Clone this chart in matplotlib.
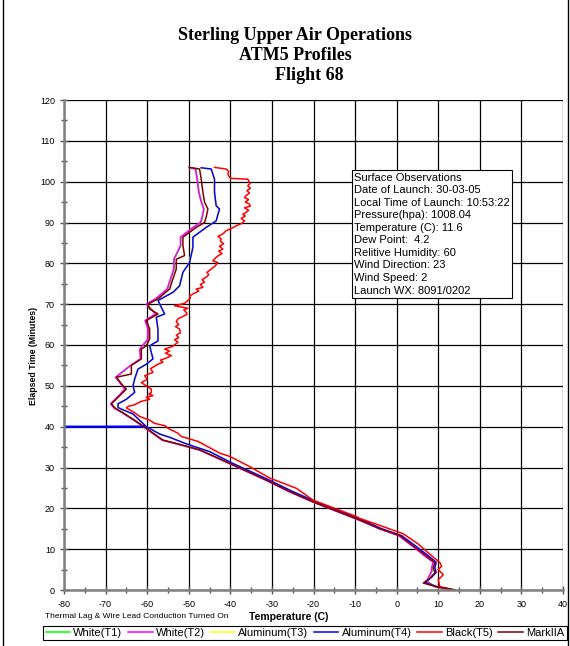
import numpy as np
import matplotlib
matplotlib.use("Agg")
from matplotlib import pyplot as plt
from matplotlib.lines import Line2D

plt.rcParams['font.family'] = ['Liberation Sans', 'DejaVu Sans']
plt.rcParams['axes.unicode_minus'] = False

# elapsed time (minutes) and temperature (C) for each sensor
t_mark = [0, 0.8, 1.7, 2.9, 4.2, 5.4, 6.7, 8.3, 10.8, 13.3, 15, 17.1, 21.6, 24.1, 26.9, 31, 34.3,
          35.9, 36.7, 39.6, 41.3, 43.4, 44.6, 45.6, 47.6, 49.2, 50, 52.1, 52.9, 55, 56.6, 59, 59.8,
          61.5, 63.9, 66, 67.6, 68.8, 70, 71.3, 73.7, 76.2, 78.6, 81, 81.9, 84.3, 86.4, 88.8, 90,
          91.3, 93.3, 95, 97.4, 100.6, 103.1, 103.5]
T_mark = [14, 9.6, 6.4, 8, 9.2, 8.8, 9.2, 7.2, 4, 0.8, -4, -8.8, -20.1, -25.7, -31.3, -40.1, -47.3,
          -53, -56.2, -60.2, -62.6, -65.8, -67.8, -68.6, -66.6, -65, -65.8, -67.4, -63.8, -63.8, -61.4,
          -61.4, -60.2, -59.4, -59.4, -60.2, -57.4, -59.4, -59.8, -57.4, -54.6, -53.8, -53, -53, -51,
          -51.4, -51.4, -48.2, -46.2, -45.8, -45.4, -46.2, -46.6, -47, -47.4, -49.8]

t_white2 = [0, 0.8, 2.1, 3, 4.6, 5.5, 6.8, 8.3, 10.8, 13.3, 15, 17.1, 21.6, 24.1, 26.9, 31, 34.3,
            36.7, 39.6, 41.3, 43.4, 44.6, 45.6, 47.6, 49.2, 52.1, 55, 56.6, 59, 61.5, 63.9, 66, 67.6,
            70, 71.3, 73.7, 76.2, 78.6, 81, 84.3, 86.4, 88.8, 90, 91.3, 93.3, 95, 97.4, 100.6, 103.1,
            103.5]
T_white2 = [14, 9.2, 7.2, 7.6, 8.4, 8.4, 8.8, 6.8, 3.7, 0.5, -4.2, -9, -20.3, -25.9, -31.5, -40.3,
            -47.5, -56.4, -60.4, -62.8, -66, -68, -68.8, -66.8, -65.4, -67.6, -64, -61.6, -61.8, -59.8,
            -59.8, -60.5, -58, -60.2, -58, -55.2, -54.4, -53.6, -53.6, -52, -52, -49, -47.2, -46.8,
            -46.4, -47, -47.6, -48, -48.4, -50]

t_white1 = t_white2
T_white1 = [14, 9.3, 7.3, 7.7, 8.5, 8.5, 8.9, 6.9, 3.8, 0.6, -4.1, -8.9, -20.2, -25.8, -31.4, -40.2,
            -47.4, -56.3, -60.3, -62.7, -65.9, -67.9, -68.7, -66.7, -65.3, -67.5, -63.9, -61.5, -61.7,
            -59.7, -59.7, -60.4, -57.9, -60.1, -57.9, -55.1, -54.3, -53.5, -53.5, -51.9, -51.9, -48.9,
            -47.1, -46.7, -46.3, -46.9, -47.5, -47.9, -48.3, -49.9]

t_alu4 = [0, 0.8, 1.8, 3, 4.3, 5.5, 6.8, 8.4, 10.9, 13.3, 15, 17.2, 21.7, 24.2, 27, 31.1, 33.9, 35.8,
          37.4, 38.2, 39.9, 40.0, 40.1, 43.1, 44.3, 44.7, 45.6, 46.7, 48.4, 50, 51.7, 54.1, 55.3, 56.6,
          59.8, 61, 63.9, 66.8, 67.6, 70.9, 72.9, 74.5, 77.8, 80.2, 83.9, 86.4, 88.8, 90.4, 93.3, 94.1,
          97.4, 100.6, 103.1, 103.4]
T_alu4 = [14, 9.8, 6.8, 8.3, 9.5, 9.2, 9.5, 7.6, 4.4, 1.2, -3.6, -8.4, -19.6, -25.2, -30.8, -39.6,
          -45, -50.6, -54.6, -57, -60, -200, -60.3, -63.4, -66.2, -67, -67, -65, -63, -63.4, -63, -62.2,
          -60.2, -58.6, -59.4, -57.4, -57.4, -57.8, -55.8, -57.4, -53.8, -52.2, -51.4, -49.8, -49, -49,
          -45.8, -43.4, -42.6, -43.4, -43.8, -43.8, -44.6, -47]

t_alu3 = t_alu4
T_alu3 = [14, 9.7, 6.7, 8.2, 9.4, 9.1, 9.4, 7.5, 4.3, 1.1, -3.7, -8.5, -19.7, -25.3, -30.9, -39.7,
          -45.1, -50.7, -54.7, -57.1, -60.1, -60.2, -60.4, -63.5, -66.3, -67.1, -67.1, -65.1, -63.1,
          -63.5, -63.1, -62.3, -60.3, -58.7, -59.5, -57.5, -57.5, -57.9, -55.9, -57.5, -53.9, -52.3,
          -51.5, -49.9, -49.1, -49.1, -45.9, -43.5, -42.7, -43.5, -43.9, -43.9, -44.7, -47.1]

t_black = [0, 0.8, 2.5, 3.75, 5, 5.8, 6.7, 8.75, 11.25, 13.75, 15.8, 17.5, 18, 22, 24.9, 27.4, 30.2,
           32.7, 33.5, 35.1, 36.4, 37.6, 38.4, 39.6, 40.2, 40.8, 41.6, 42.5, 43.4, 44.6, 45, 45.3,
           45.6, 46.2, 46.7, 47.2, 47.6, 48.0, 48.4, 49.2, 50, 50.8, 51.6, 52.5, 53.3, 54.2, 55.3,
           55.8, 56.3, 56.8, 57.4, 58.0, 58.5, 59.0, 59.6, 60.2, 60.7, 61.3, 61.8, 62.4, 63.0, 63.9,
           64.5, 65.0, 65.7, 66.4, 67.0, 67.5, 68.0, 68.6, 69.0, 69.6, 70.2, 70.9, 71.5, 72.0, 72.5,
           73.2, 73.7, 74.1, 74.8, 75.4, 76.0, 76.6, 77.2, 77.8, 78.6, 79.4, 80.2, 80.6, 81.1, 81.8,
           82.4, 83.0, 83.5, 84.2, 84.8, 85.4, 86.0, 86.6, 87.2, 88.0, 88.6, 89.2, 89.8, 90.4, 91.0,
           91.6, 92.0, 92.5, 93.0, 93.6, 94.0, 94.5, 95.0, 95.6, 96.1, 96.6, 97.2, 97.8, 98.4, 99.0,
           99.6, 100.2, 100.6, 100.8, 101.1, 101.9, 102.5, 103.1, 103.3, 103.5]
T_black = [14, 10.4, 10, 11.2, 10, 10.8, 10.4, 8, 5.2, 1.6, -4, -8.8, -9.7, -20.1, -24.1, -30.5,
           -35.3, -40.1, -42.5, -45.4, -47.8, -51.8, -52.6, -55, -55.6, -58.2, -59.4, -61.8, -63,
           -65, -64.5, -63.2, -62.6, -61.4, -59.4, -60.2, -58.6, -59.6, -59, -59, -60.2, -61.4, -60.0,
           -60.6, -58.6, -59.2, -57.4, -56.2, -56.8, -55.4, -54.2, -55.6, -54.6, -55.8, -54.0, -53.2,
           -52.6, -53.4, -52.4, -53.0, -52.0, -52.2, -53.2, -52.4, -53.0, -52.6, -51.4, -50.4, -50.6,
           -51.2, -50.2, -53.4, -51.0, -50.2, -49.6, -49.8, -49.0, -47.6, -48.2, -46.6, -47.2, -46.2,
           -46.8, -45.8, -45.2, -45.6, -44.6, -43.6, -43.0, -44.2, -43.8, -43.0, -42.0, -42.8, -41.8,
           -42.6, -41.6, -42.4, -42.2, -43.0, -41.8, -41.0, -39.6, -38.6, -37.2, -36.6, -37.4, -36.4,
           -37.0, -36.2, -35.6, -36.6, -35.2, -35.4, -36.4, -35.6, -36.6, -36.2, -35.4, -36.0, -35.2,
           -35.8, -35.2, -35.6, -35.8, -39.8, -40.2, -40.6, -40.4, -41, -42.4, -43.8]

series = [
    ("White(T1)", t_white1, T_white1, "#00ff00"),
    ("White(T2)", t_white2, T_white2, "#ff00ff"),
    ("Aluminum(T3)", t_alu3, T_alu3, "#ffff00"),
    ("Aluminum(T4)", t_alu4, T_alu4, "#0000ff"),
    ("Black(T5)", t_black, T_black, "#ff0000"),
    ("MarkIIA", t_mark, T_mark, "#800000"),
]

obs_lines = ["Surface Observations",
             "Date of Launch: 30-03-05",
             "Local Time of Launch: 10:53:22",
             "Pressure(hpa): 1008.04",
             "Temperature (C): 11.6",
             "Dew Point:  4.2",
             "Relitive Humidity: 60",
             "Wind Direction: 23",
             "Wind Speed: 2",
             "Launch WX: 8091/0202"]

fig = plt.figure(figsize=(5.7, 6.46), dpi=100)
ax = fig.add_axes([64/570, 1 - 590/646, (563 - 64)/570, (590 - 100)/646])

handles = []
for name, t, T, c in series:
    ax.plot(T, t, color=c, lw=1.1)
    handles.append(Line2D([], [], color=c, lw=1.1, label=name))

ax.set_xlim(-80, 40)
ax.set_ylim(0, 120)
ax.set_xticks(np.arange(-80, 41, 10))
ax.set_yticks(np.arange(0, 121, 10))
ax.set_xticks(np.arange(-80, 41, 5), minor=True)
ax.set_yticks(np.arange(0, 121, 5), minor=True)
ax.grid(True, which='major', color='black', lw=0.9)
ax.tick_params(which='major', direction='inout', length=6, width=1, labelsize=6.5, colors='#555555',
               labelcolor='black')
ax.tick_params(which='minor', direction='inout', length=4, width=1, colors='#555555')
ax.tick_params(axis='x', pad=4)
for s in ['top', 'right']:
    ax.spines[s].set_visible(False)
for s in ['left', 'bottom']:
    ax.spines[s].set_color('#808080')
    ax.spines[s].set_linewidth(1.8)

ax.text(0.582, 0.852, "\n".join(obs_lines), transform=ax.transAxes, fontsize=8, va='top', ha='left',
        linespacing=1.32,
        bbox=dict(boxstyle='square,pad=0.2', facecolor='white', edgecolor='black', lw=0.8))

tfont = dict(family='Liberation Serif', fontsize=13, fontweight='bold', ha='center', va='center')
fig.text(295/570, 1 - 35/646, "Sterling Upper Air Operations", **tfont)
fig.text(295/570, 1 - 55/646, "ATM5 Profiles", **tfont)
fig.text(309/570, 1 - 76/646, "Flight 68", **tfont)

fig.text(33/570, 1 - 356/646, "Elapsed Time (Minutes)", rotation=90, fontsize=6.3, fontweight='bold',
         ha='center', va='center')
fig.text(45/570, 1 - 617/646, "Thermal Lag & Wire Lead Conduction Turned On", fontsize=6,
         ha='left', va='center')
fig.text(289/570, 1 - 617/646, "Temperature (C)", fontsize=7.5, fontweight='bold',
         ha='center', va='center')

leg = fig.legend(handles=handles, loc='center', bbox_to_anchor=(305/570, 1 - 633/646), ncol=6,
                 fontsize=8, frameon=True, fancybox=False, edgecolor='black', framealpha=1,
                 handlelength=2.2, handletextpad=0.3, columnspacing=0.5, borderpad=0.2,
                 borderaxespad=0)
leg.get_frame().set_linewidth(0.8)

fig.add_artist(Line2D([2.5/570, 2.5/570], [0, 1], color='black', lw=1))
fig.add_artist(Line2D([567.5/570, 567.5/570], [0, 1], color='black', lw=1))

fig.savefig("out.png", dpi=100)
